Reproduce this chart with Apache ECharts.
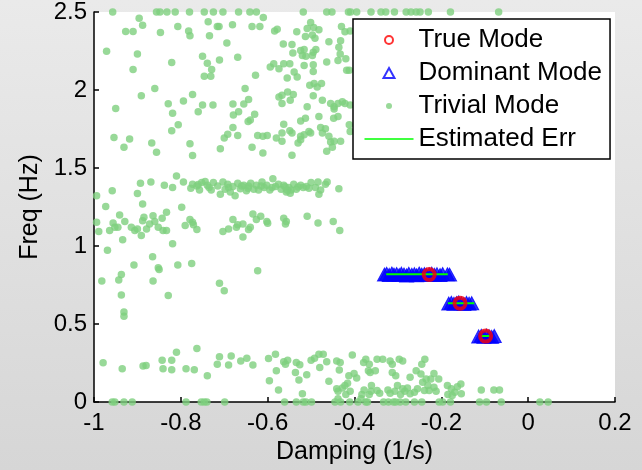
<!DOCTYPE html>
<html>
<head>
<meta charset="utf-8">
<script src="https://cdn.jsdelivr.net/npm/echarts@6/dist/echarts.min.js"></script>
<style>
  html, body { margin: 0; padding: 0; }
  #chart { width: 642px; height: 470px; }
</style>
</head>
<body>
<div id="chart"></div>
<script>
// Axis ranges and ticks
const xRange = { min: -1, max: 0.2, step: 0.2 };
const yRange = { min: 0, max: 2.5, step: 0.5 };

// True modes: [damping (1/s), freq (Hz)]
const trueModes = [[-0.228, 0.818], [-0.157, 0.634], [-0.098, 0.423]];

// Dominant modes, one cluster per true mode
const dominantNear082 = [
  [-0.331,0.818],[-0.326,0.822],[-0.320,0.815],[-0.314,0.824],[-0.309,0.817],[-0.303,0.821],
  [-0.297,0.814],[-0.292,0.823],[-0.286,0.818],[-0.280,0.812],[-0.275,0.822],[-0.268,0.816],
  [-0.262,0.820],[-0.257,0.813],[-0.251,0.824],[-0.245,0.817],[-0.239,0.821],[-0.234,0.815],
  [-0.228,0.819],[-0.222,0.823],[-0.216,0.816],[-0.210,0.820],[-0.203,0.814],[-0.197,0.821],
  [-0.186,0.819],[-0.181,0.817]
];
const dominantNear063 = [
  [-0.183,0.632],[-0.177,0.637],[-0.171,0.630],[-0.165,0.635],[-0.160,0.639],
  [-0.154,0.633],[-0.148,0.628],[-0.142,0.636],[-0.136,0.631],[-0.130,0.634]
];
const dominantNear042 = [
  [-0.114,0.421],[-0.108,0.425],[-0.102,0.419],[-0.096,0.427],[-0.090,0.422],[-0.084,0.418],[-0.078,0.424]
];

// Estimated error ranges in damping for each mode
const errFrom = [-0.327, -0.185, -0.108];
const errTo = [-0.185, -0.124, -0.089];
const errFreq = [0.820, 0.634, 0.423];

// Trivial modes, grouped by frequency range
const trivialTopEdge = [
  -0.957,-0.856,-0.848,-0.832,-0.813,-0.780,-0.746,-0.725,-0.703,-0.667,-0.641,-0.626,
  -0.518,-0.464,-0.452,-0.414,-0.409,-0.395,-0.362,-0.339,-0.328,-0.308,-0.281,-0.270,
  -0.258,-0.249,-0.230,-0.179,-0.068
];
const trivialUpperLeft = [
  [-0.896,2.46],[-0.888,2.415],[-0.927,2.375],[-0.910,2.375],[-0.847,2.369],[-0.807,2.407],
  [-0.782,2.379],[-0.779,2.348],[-0.737,2.437],[-0.734,2.348],[-0.716,2.407],[-0.712,2.407],
  [-0.681,2.418],[-0.971,2.248],[-0.900,2.231],[-0.910,2.132],[-0.821,2.176],[-0.750,2.217],
  [-0.739,2.172],[-0.729,2.132],[-0.746,2.088],[-0.731,2.088],[-0.711,2.193],[-0.694,2.301],
  [-0.669,2.210],[-0.652,2.009],[-0.644,1.940],[-0.655,1.910],[-0.667,1.861],[-0.680,1.910],
  [-0.680,1.760],[-0.669,1.709],[-0.645,1.798],[-0.950,1.882],[-0.891,1.963],[-0.860,2.009],
  [-0.829,1.912],[-0.819,1.851],[-0.794,1.929],[-0.773,1.971],[-0.760,1.861],[-0.806,1.777],
  [-0.821,1.739],[-0.856,1.601],[-0.867,1.660],[-0.954,1.696],[-0.931,1.633],[-0.918,1.686],
  [-0.779,1.656],[-0.773,1.580],[-0.750,1.904],[-0.726,1.904],[-0.709,1.624],[-0.700,1.692],
  [-0.692,1.717],[-0.679,1.840]
];
const trivialUpperRight = [
  [-0.610,2.464],[-0.636,2.407],[-0.618,2.407],[-0.584,2.379],[-0.578,2.390],[-0.533,2.373],
  [-0.509,2.394],[-0.501,2.432],[-0.494,2.401],[-0.482,2.386],[-0.513,2.343],[-0.497,2.352],
  [-0.491,2.331],[-0.459,2.310],[-0.430,2.407],[-0.422,2.373],[-0.410,2.379],[-0.432,2.316],
  [-0.436,2.274],[-0.433,2.231],[-0.438,2.189],[-0.420,2.200],[-0.564,2.295],[-0.544,2.291],
  [-0.542,2.238],[-0.524,2.253],[-0.516,2.259],[-0.520,2.221],[-0.512,2.217],[-0.495,2.242],
  [-0.489,2.259],[-0.497,2.221],[-0.464,2.179],[-0.594,2.147],[-0.586,2.168],[-0.574,2.136],
  [-0.563,2.168],[-0.549,2.168],[-0.539,2.115],[-0.516,2.157],[-0.495,2.162],[-0.495,2.119],
  [-0.628,2.094],[-0.555,2.077],[-0.532,2.083],[-0.503,2.030],[-0.493,2.041],[-0.476,2.041],
  [-0.486,2.020],[-0.418,2.126],[-0.412,2.126],[-0.574,1.956],[-0.567,1.967],[-0.554,1.988],
  [-0.541,1.972],[-0.567,1.914],[-0.548,1.935],[-0.495,1.963],[-0.474,1.935],[-0.509,1.893],
  [-0.455,1.914],[-0.447,1.893],[-0.447,1.878],[-0.438,1.914],[-0.422,1.914],[-0.428,1.925],
  [-0.410,1.904],[-0.630,1.844],[-0.640,1.808],[-0.513,1.819],[-0.524,1.802],[-0.482,1.830],
  [-0.448,1.819],[-0.438,1.830],[-0.563,1.781],[-0.567,1.724],[-0.549,1.739],[-0.544,1.724],
  [-0.524,1.703],[-0.516,1.713],[-0.501,1.724],[-0.505,1.734],[-0.478,1.760],[-0.467,1.751],
  [-0.459,1.703],[-0.474,1.724],[-0.455,1.667],[-0.447,1.671],[-0.432,1.671],[-0.410,1.734],
  [-0.412,1.777],[-0.623,1.709],[-0.611,1.703],[-0.601,1.709],[-0.580,1.692],[-0.567,1.671],
  [-0.530,1.660],[-0.524,1.681],[-0.636,1.633],[-0.611,1.597],[-0.544,1.582],[-0.464,1.607],
  [-0.451,1.633]
];
const trivialBand = [
  [-0.994,1.322],[-0.958,1.354],[-0.973,1.254],[-0.900,1.337],[-0.893,1.402],[-0.869,1.411],
  [-0.888,1.269],[-0.838,1.390],[-0.819,1.375],[-0.810,1.449],[-0.794,1.411],[-0.798,1.248],
  [-0.777,1.371],[-0.773,1.396],[-0.763,1.385],[-0.757,1.360],[-0.752,1.407],[-0.744,1.413],
  [-0.739,1.390],[-0.730,1.360],[-0.725,1.407],[-0.709,1.332],[-0.703,1.411],[-0.698,1.364],
  [-0.692,1.396],[-0.686,1.347],[-0.680,1.381],[-0.675,1.322],[-0.669,1.402],[-0.663,1.368],
  [-0.655,1.390],[-0.649,1.354],[-0.644,1.385],[-0.639,1.402],[-0.632,1.364],[-0.626,1.390],
  [-0.621,1.360],[-0.613,1.411],[-0.608,1.375],[-0.602,1.390],[-0.595,1.360],[-0.588,1.432],
  [-0.582,1.381],[-0.575,1.396],[-0.569,1.364],[-0.563,1.390],[-0.557,1.347],[-0.551,1.375],
  [-0.546,1.360],[-0.540,1.396],[-0.534,1.364],[-0.524,1.390],[-0.518,1.375],[-0.511,1.381],
  [-0.500,1.407],[-0.490,1.375],[-0.484,1.411],[-0.482,1.332],[-0.478,1.360],[-0.467,1.396],
  [-0.463,1.411],[-0.436,1.368],[-0.548,1.339],[-0.555,1.360],[-0.760,1.395],[-0.735,1.375],
  [-0.715,1.385],[-0.690,1.375],[-0.660,1.385],[-0.645,1.370],[-0.615,1.385],[-0.590,1.375],
  [-0.560,1.380],[-0.530,1.378],[-0.505,1.370]
];
const trivialMiddle = [
  [-0.994,1.153],[-0.989,1.093],[-0.969,0.973],[-0.964,1.100],[-0.956,1.148],[-0.952,1.121],
  [-0.945,1.121],[-0.941,1.199],[-0.934,1.041],[-0.929,1.157],[-0.914,1.121],[-0.906,1.100],
  [-0.900,1.110],[-0.891,1.068],[-0.888,1.163],[-0.885,1.184],[-0.879,1.110],[-0.872,1.142],
  [-0.864,1.195],[-0.860,1.157],[-0.852,1.121],[-0.843,1.178],[-0.841,1.100],[-0.833,1.100],
  [-0.833,1.216],[-0.819,1.015],[-0.790,1.132],[-0.779,1.170],[-0.773,1.153],[-0.763,1.106],
  [-0.771,1.136],[-0.703,1.093],[-0.690,1.110],[-0.680,1.170],[-0.669,1.136],[-0.672,1.121],
  [-0.657,1.142],[-0.657,1.058],[-0.644,1.106],[-0.640,1.121],[-0.634,1.206],[-0.626,1.170],
  [-0.616,1.191],[-0.602,1.157],[-0.600,1.146],[-0.563,1.178],[-0.559,1.142],[-0.557,1.157],
  [-0.509,1.191],[-0.484,1.148],[-0.449,1.157],[-0.434,1.100],
  [-0.865,0.931],[-0.852,0.861],[-0.850,0.850],[-0.908,0.878],[-0.807,0.878],[-0.775,0.888],
  [-0.982,0.776],[-0.943,0.782],[-0.937,0.818],[-0.864,0.776],[-0.711,0.761],[-0.700,0.713],
  [-0.623,0.842],[-0.937,0.686],[-0.829,0.683],[-0.931,0.577],[-0.931,0.550]
];
const trivialLower = [
  [-0.979,0.252],[-0.935,0.214],[-0.887,0.231],[-0.880,0.235],[-0.843,0.269],[-0.841,0.214],
  [-0.821,0.269],[-0.821,0.207],[-0.810,0.319],[-0.788,0.214],[-0.769,0.207],[-0.763,0.343],
  [-0.739,0.169],[-0.716,0.243],[-0.711,0.290],[-0.690,0.237],[-0.684,0.296],[-0.662,0.264],
  [-0.648,0.281],[-0.634,0.237],
  [-0.598,0.279],[-0.582,0.307],[-0.580,0.201],[-0.596,0.137],[-0.575,0.078],[-0.563,0.258],
  [-0.554,0.269],[-0.559,0.243],[-0.534,0.254],[-0.526,0.239],[-0.536,0.190],[-0.528,0.142],
  [-0.510,0.176],[-0.520,0.053],[-0.500,0.269],[-0.492,0.281],[-0.482,0.307],[-0.472,0.307],
  [-0.464,0.258],[-0.480,0.222],[-0.459,0.133],[-0.441,0.264],[-0.433,0.254],[-0.435,0.205],
  [-0.441,0.085],[-0.438,0.070],[-0.428,0.091],[-0.422,0.106],[-0.416,0.121],[-0.413,0.169],
  [-0.420,0.049],[-0.438,0.021],[-0.410,0.070],[-0.401,0.184],[-0.395,0.154],[-0.405,0.302],
  [-0.383,0.049],[-0.378,0.078],[-0.385,0.021],[-0.379,0.254],[-0.374,0.275],[-0.366,0.243],
  [-0.364,0.190],[-0.368,0.201],[-0.361,0.106],[-0.366,0.049],[-0.348,0.275],[-0.352,0.201],
  [-0.342,0.057],[-0.362,0.070],[-0.335,0.275],[-0.348,0.074],[-0.318,0.264],[-0.313,0.243],
  [-0.313,0.190],[-0.323,0.078],[-0.318,0.057],[-0.297,0.275],[-0.289,0.264],[-0.305,0.169],
  [-0.301,0.106],[-0.307,0.070],[-0.289,0.085],[-0.284,0.070],[-0.278,0.091],[-0.272,0.159],
  [-0.272,0.053],[-0.294,0.049],[-0.262,0.063],[-0.258,0.201],[-0.255,0.085],[-0.247,0.180],
  [-0.243,0.127],[-0.238,0.275],[-0.245,0.243],[-0.235,0.148],[-0.231,0.106],[-0.224,0.148],
  [-0.217,0.184],[-0.217,0.095],[-0.212,0.070],[-0.228,0.074],[-0.239,0.074],[-0.206,0.148],
  [-0.186,0.106],[-0.177,0.085],[-0.169,0.063],[-0.163,0.099],[-0.155,0.116],[-0.154,0.053],
  [-0.185,0.049],[-0.175,0.042],[-0.108,0.078],[-0.079,0.078],[-0.066,0.078]
];
const trivialZeroFreq = [
  -0.958,-0.952,-0.931,-0.912,-0.788,-0.753,-0.746,-0.740,-0.699,-0.561,-0.534,-0.518,
  -0.512,-0.499,-0.445,-0.432,-0.411,-0.392,-0.374,-0.370,-0.333,-0.322,-0.310,-0.305,
  -0.295,-0.282,-0.262,-0.245,-0.205,-0.197,-0.179,-0.112,-0.096,-0.062,0.027,0.046
];

const trivialAll = [].concat(
  trivialTopEdge.map(d => [d, 2.5]),
  trivialUpperLeft, trivialUpperRight, trivialBand, trivialMiddle, trivialLower,
  trivialZeroFreq.map(d => [d, 0])
);
const dominantAll = [].concat(dominantNear082, dominantNear063, dominantNear042);
const errLine = [];
errFrom.forEach((d, i) => {
  errLine.push([d, errFreq[i]], [errTo[i], errFreq[i]], [null, null]);
});

const FONT = '"Liberation Sans", Arial, sans-serif';
const chart = echarts.init(document.getElementById('chart'), null, { renderer: 'canvas' });

// legend glyphs: invisible corners pin each glyph's box to 49 x 14
const frame = 'M0,0 M49,14 ';
chart.setOption({
  animation: false,
  backgroundColor: {
    type: 'linear', x: 0, y: 0, x2: 0, y2: 1,
    colorStops: [{ offset: 0, color: '#eaeaea' }, { offset: 1, color: '#d6d6d6' }]
  },
  grid: { left: 94, top: 11, right: 27, bottom: 65, show: true, backgroundColor: '#ffffff', borderWidth: 0 },
  xAxis: {
    type: 'value', min: xRange.min, max: xRange.max, interval: xRange.step,
    name: 'Damping (1/s)', nameLocation: 'middle', nameGap: 37,
    nameTextStyle: { fontFamily: FONT, fontSize: 25, color: '#000' },
    axisLine: { onZero: false, lineStyle: { color: '#000', width: 1.5 } },
    axisTick: { inside: true, length: 5, lineStyle: { color: '#000', width: 1.5 } },
    axisLabel: { fontFamily: FONT, fontSize: 24, color: '#000', margin: 9 },
    splitLine: { show: false }
  },
  yAxis: {
    type: 'value', min: yRange.min, max: yRange.max, interval: yRange.step,
    name: 'Freq (Hz)', nameLocation: 'middle', nameRotate: 90, nameGap: 46,
    nameTextStyle: { fontFamily: FONT, fontSize: 25, color: '#000' },
    axisLine: { onZero: false, lineStyle: { color: '#000', width: 1.5 } },
    axisTick: { inside: true, length: 5, lineStyle: { color: '#000', width: 1.5 } },
    axisLabel: { fontFamily: FONT, fontSize: 24, color: '#000', margin: 7 },
    splitLine: { show: false }
  },
  legend: {
    orient: 'vertical', left: 353, top: 19,
    padding: [8, 8, 7, 9], itemGap: 7, itemWidth: 49, itemHeight: 14,
    backgroundColor: '#ffffff', borderColor: '#000', borderWidth: 1.5,
    textStyle: { fontFamily: FONT, fontSize: 26, color: '#000', lineHeight: 26 },
    selectedMode: false, z: 10,
    data: [
      { name: 'True Mode', icon: 'path://' + frame + 'M28.5,7 A4,4 0 1,1 20.5,7 A4,4 0 1,1 28.5,7 Z',
        itemStyle: { color: 'none', borderColor: '#ff0000', borderWidth: 2 } },
      { name: 'Dominant Mode', icon: 'path://' + frame + 'M24.5,2 L30,12 L19,12 Z',
        itemStyle: { color: 'none', borderColor: '#0000ff', borderWidth: 2 } },
      { name: 'Trivial Mode', icon: 'path://' + frame + 'M27.5,7 A3,3 0 1,1 21.5,7 A3,3 0 1,1 27.5,7 Z',
        itemStyle: { color: '#80cf80', borderWidth: 0 } },
      { name: 'Estimated Err', icon: 'path://' + frame + 'M0,7 L49,7',
        itemStyle: { color: 'none', borderColor: '#00ff00', borderWidth: 1.5 } }
    ]
  },
  series: [
    {
      name: 'Trivial Mode', type: 'scatter', data: trivialAll, clip: false, z: 1,
      symbol: 'circle', symbolSize: 7.5, itemStyle: { color: '#7ecf7e' }
    },
    {
      name: 'Dominant Mode', type: 'scatter', data: dominantAll, clip: false, z: 2,
      symbol: 'triangle', symbolSize: [14, 13],
      itemStyle: { color: '#0000ff', borderColor: '#0000ff', borderWidth: 1 }
    },
    {
      name: 'Estimated Err', type: 'line', data: errLine, z: 3,
      symbol: 'none', connectNulls: false,
      lineStyle: { color: '#00ff00', width: 2 }, itemStyle: { color: '#00ff00' }
    },
    {
      name: 'True Mode', type: 'scatter', data: trueModes, clip: false, z: 4,
      symbol: 'circle', symbolSize: 11,
      itemStyle: { color: 'none', borderColor: '#ff0000', borderWidth: 4 }
    }
  ]
});
</script>
</body>
</html>
